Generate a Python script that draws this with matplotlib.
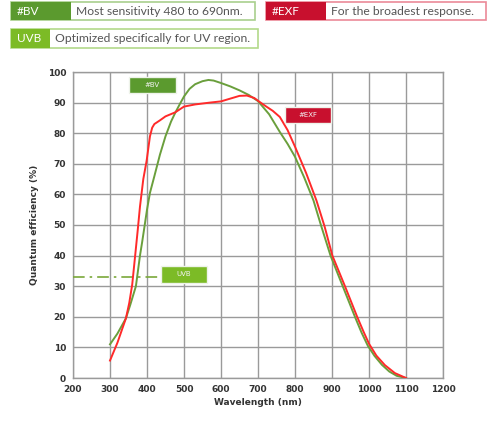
import matplotlib
matplotlib.use("Agg")
import matplotlib.pyplot as plt
from matplotlib.patches import Rectangle

# quantum efficiency curves (wavelength nm, QE %)
bv_wl = [300, 320, 343, 355, 365, 370, 375, 381, 387, 392, 400, 408, 420, 435, 450,
         465, 476, 490, 500, 515, 530, 550, 566, 580, 600, 625, 650, 675, 700, 730,
         759, 780, 800, 825, 850, 870, 896, 929, 962, 980, 997, 1015, 1035, 1055, 1075, 1100]
bv_qe = [11, 14.5, 19.5, 24, 28, 30, 34.5, 40, 44.5, 48.5, 55, 60.5, 66, 73, 79,
         83.8, 86.6, 89.8, 92, 94.5, 96, 97, 97.4, 97.2, 96.4, 95.3, 94, 92.5, 90.5, 86.2,
         80.4, 76.5, 72.3, 65.5, 58, 50, 40, 30, 20, 14.8, 10.5, 7.2, 4.3, 2.1, 0.7, 0]

exf_wl = [300, 320, 343, 352, 360, 368, 375, 381, 390, 399, 408, 414, 420, 435, 450,
          476, 500, 530, 570, 600, 625, 650, 670, 690, 700, 720, 740, 759, 780, 800,
          830, 858, 880, 901, 935, 968, 985, 1000, 1020, 1043, 1070, 1100]
exf_qe = [5.7, 11.5, 19.5, 24.5, 30.5, 40, 48.4, 56, 65, 71, 79, 81.8, 83, 84.2, 85.5,
          86.8, 88.7, 89.4, 90, 90.4, 91.3, 92.2, 92.3, 91.5, 90.6, 88.9, 87.3, 85.3, 81, 75.6,
          67, 58, 49.5, 40, 30, 20, 15.2, 11.2, 7.3, 4.2, 1.6, 0]

uvb_level = 33
uvb_line_end = 435

x_ticks = list(range(200, 1201, 100))
y_ticks = list(range(0, 101, 10))

# legend header rows: (badge, description, badge colour, border colour, x0, x1, x2, y_top, y_bot) in pixels
headers = [
    ("#BV", "Most sensitivity 480 to 690nm.", "#5b9a2e", "#a9cf8e", 11, 71, 255, 2, 20),
    ("#EXF", "For the broadest response.", "#c8102e", "#eb8a98", 266, 326, 486, 2, 20),
    ("UVB", "Optimized specifically for UV region.", "#7cbb26", "#b3d98a", 11, 50, 258, 29, 48),
]

# in-plot curve tags: (text, x0, x1, y0, y1, colour) in data units
tags = [
    ("#BV", 351, 478, 93, 98.4, "#5b9a2e"),
    ("#EXF", 773, 897, 83.2, 88.7, "#c8102e"),
    ("UVB", 438, 563, 31.2, 36.7, "#7cbb26"),
]

W, H = 487, 421
fig = plt.figure(figsize=(W / 100, H / 100), dpi=100)
ax = fig.add_axes([73 / W, 1 - 378 / H, 370 / W, 306 / H])

ax.plot(bv_wl, bv_qe, color="#6a9f3c", lw=1.4, zorder=3)
ax.plot(exf_wl, exf_qe, color="#ff2a2a", lw=1.4, zorder=4)
ax.plot([200, uvb_line_end], [uvb_level, uvb_level], color="#7aa83a",
        lw=1.2, ls=(0, (7, 3, 1.5, 3)), zorder=3)

ax.set_xlim(200, 1200)
ax.set_ylim(0, 100)
ax.set_xticks(x_ticks)
ax.set_yticks(y_ticks)
ax.grid(True, color="#9a9a9a", lw=1.0)
ax.set_axisbelow(True)
for s in ax.spines.values():
    s.set_color("#9a9a9a")
    s.set_linewidth(1.0)
ax.tick_params(length=0, pad=5, labelsize=6.5, labelcolor="#333333")
for lab in ax.get_xticklabels() + ax.get_yticklabels():
    lab.set_fontweight("bold")
ax.set_xlabel("Wavelength (nm)", fontsize=6.5, fontweight="bold", color="#333333", labelpad=3)
ax.set_ylabel("Quantum efficiency (%)", fontsize=6.5, fontweight="bold", color="#333333", labelpad=6)

for text, x0, x1, y0, y1, col in tags:
    ax.add_patch(Rectangle((x0, y0), x1 - x0, y1 - y0, fc=col, ec="#eef3ea", lw=1.0, zorder=6))
    ax.text((x0 + x1) / 2, (y0 + y1) / 2, text, ha="center", va="center", fontsize=5,
            color="#f2f2f2", zorder=7)


def px(x, y):
    return x / W, 1 - y / H


for badge, desc, col, border, x0, x1, x2, yt, yb in headers:
    fig.add_artist(Rectangle(px(x0, yb), (x2 - x0) / W, (yb - yt) / H, transform=fig.transFigure,
                             fc="white", ec=border, lw=1.2))
    fig.add_artist(Rectangle(px(x0, yb), (x1 - x0) / W, (yb - yt) / H, transform=fig.transFigure,
                             fc=col, ec="none"))
    fig.text(*px(x0 + 6, (yt + yb) / 2 + 0.5), badge, ha="left", va="center", fontsize=8.5,
             color="white", family="Lato")
    fig.text(*px(x1 + 5, (yt + yb) / 2 + 0.5), desc, ha="left", va="center", fontsize=8.7,
             color="#555555", family="Lato")

fig.savefig("out.png", dpi=100, facecolor="white")
